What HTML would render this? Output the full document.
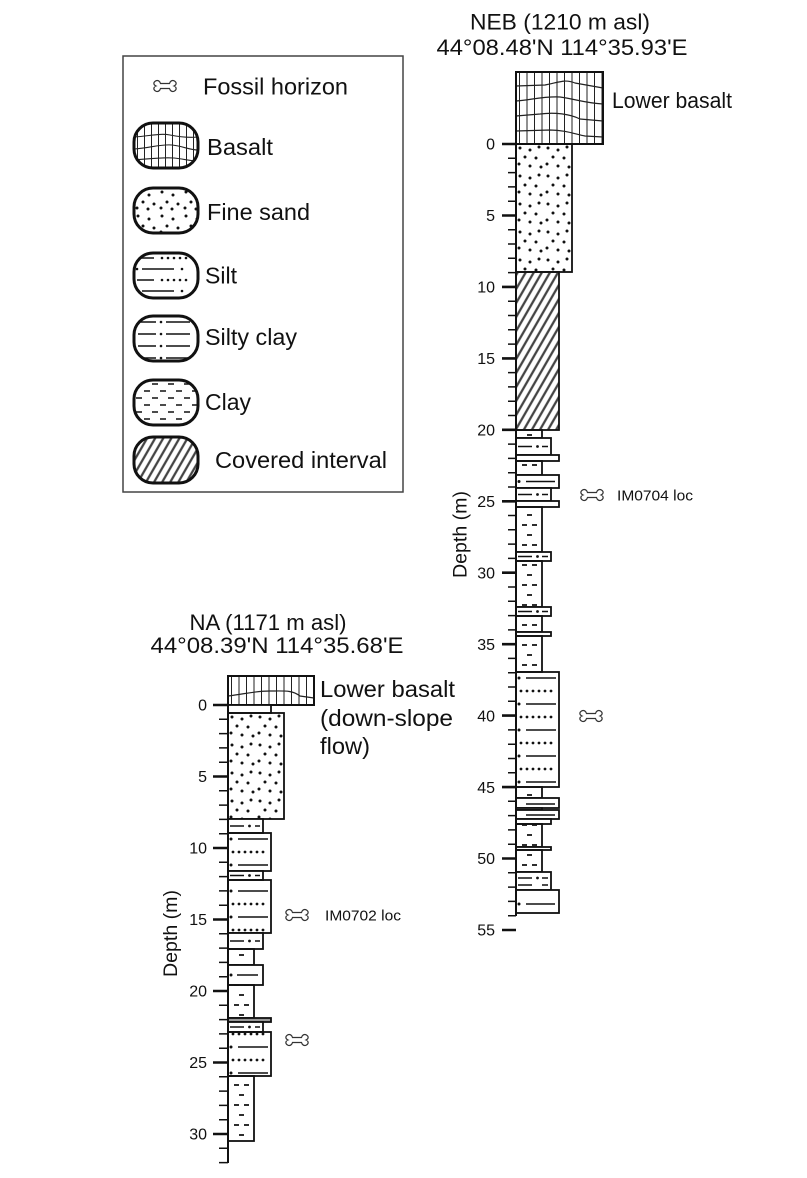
<!DOCTYPE html>
<html><head><meta charset="utf-8"><style>html,body{margin:0;padding:0;background:#fff}svg{display:block}</style></head>
<body>
<svg width="807" height="1178" viewBox="0 0 807 1178" xmlns="http://www.w3.org/2000/svg" font-family="'Liberation Sans', Arial, sans-serif" fill="#111">
<defs>
  <pattern id="sandN" x="516" y="144" width="28" height="28" patternUnits="userSpaceOnUse"><g fill="#111"><circle cx="4" cy="4" r="1.5"/><circle cx="14" cy="6" r="1.5"/><circle cx="23" cy="3" r="1.5"/><circle cx="9" cy="13" r="1.5"/><circle cx="20" cy="14" r="1.5"/><circle cx="3" cy="20" r="1.5"/><circle cx="14" cy="22" r="1.5"/><circle cx="25" cy="23" r="1.5"/></g></pattern>
  <pattern id="sandA" x="228" y="713" width="28" height="28" patternUnits="userSpaceOnUse"><g fill="#111"><circle cx="4" cy="4" r="1.5"/><circle cx="14" cy="6" r="1.5"/><circle cx="23" cy="3" r="1.5"/><circle cx="9" cy="13" r="1.5"/><circle cx="20" cy="14" r="1.5"/><circle cx="3" cy="20" r="1.5"/><circle cx="14" cy="22" r="1.5"/><circle cx="25" cy="23" r="1.5"/></g></pattern>
  <pattern id="sandL" x="134" y="188" width="24" height="24" patternUnits="userSpaceOnUse"><g fill="#111"><circle cx="4" cy="4" r="1.5"/><circle cx="15" cy="7" r="1.5"/><circle cx="9" cy="14" r="1.5"/><circle cx="20" cy="16" r="1.5"/><circle cx="3" cy="20" r="1.5"/><circle cx="14" cy="21" r="1.5"/></g></pattern>
  <pattern id="clayN" x="516" y="0" width="26" height="20" patternUnits="userSpaceOnUse"><path d="M6,5h5M16,5h5M11,15h5" stroke="#111" stroke-width="1.8"/></pattern>
  <pattern id="clayA" x="228" y="0" width="26" height="20" patternUnits="userSpaceOnUse"><path d="M6,5h5M16,5h5M11,15h5" stroke="#111" stroke-width="1.8"/></pattern>
  <pattern id="clayL" x="134" y="380" width="16" height="14" patternUnits="userSpaceOnUse"><path d="M2,4h6M10,11h6" stroke="#111" stroke-width="1.6"/></pattern>
  <pattern id="siltN" x="516" y="672" width="43" height="26" patternUnits="userSpaceOnUse"><circle cx="3" cy="6" r="1.5"/><path d="M10,6H40" stroke="#111" stroke-width="1.5"/><g><circle cx="5" cy="19" r="1.4"/><circle cx="11" cy="19" r="1.4"/><circle cx="17" cy="19" r="1.4"/><circle cx="23" cy="19" r="1.4"/><circle cx="29" cy="19" r="1.4"/><circle cx="35" cy="19" r="1.4"/></g></pattern>
  <pattern id="siltA" x="228" y="833" width="43" height="26" patternUnits="userSpaceOnUse"><circle cx="3" cy="6" r="1.5"/><path d="M10,6H40" stroke="#111" stroke-width="1.5"/><g><circle cx="5" cy="19" r="1.4"/><circle cx="11" cy="19" r="1.4"/><circle cx="17" cy="19" r="1.4"/><circle cx="23" cy="19" r="1.4"/><circle cx="29" cy="19" r="1.4"/><circle cx="35" cy="19" r="1.4"/></g></pattern>
  <pattern id="siltL" x="134" y="253" width="64" height="22" patternUnits="userSpaceOnUse"><path d="M3,5H20M8,16H40" stroke="#111" stroke-width="1.4"/><g><circle cx="28" cy="5" r="1.3"/><circle cx="34" cy="5" r="1.3"/><circle cx="40" cy="5" r="1.3"/><circle cx="46" cy="5" r="1.3"/><circle cx="52" cy="5" r="1.3"/><circle cx="3" cy="16" r="1.3"/><circle cx="48" cy="16" r="1.3"/></g></pattern>
  <pattern id="scL" x="134" y="316" width="64" height="12" patternUnits="userSpaceOnUse"><path d="M4,6H22M32,6H56" stroke="#111" stroke-width="1.4"/><circle cx="27" cy="6" r="1.3"/></pattern>
  <pattern id="cov" x="0" y="0" width="7" height="20" patternUnits="userSpaceOnUse" patternTransform="rotate(30)"><line x1="3.5" y1="0" x2="3.5" y2="20" stroke="#444" stroke-width="2.3"/></pattern>
  <pattern id="vlN" x="516" y="0" width="7.5" height="10" patternUnits="userSpaceOnUse"><line x1="3.5" y1="0" x2="3.5" y2="10" stroke="#222" stroke-width="1"/></pattern>
  <pattern id="vlA" x="228" y="0" width="7.5" height="10" patternUnits="userSpaceOnUse"><line x1="3.5" y1="0" x2="3.5" y2="10" stroke="#222" stroke-width="1"/></pattern>
  <pattern id="vlL" x="134" y="0" width="7" height="10" patternUnits="userSpaceOnUse"><line x1="3.5" y1="0" x2="3.5" y2="10" stroke="#222" stroke-width="1"/></pattern>
  <clipPath id="capB"><rect x="134" y="123" width="64" height="45" rx="19"/></clipPath>
</defs>

<!-- Legend -->
<rect x="123" y="56" width="280" height="436" fill="none" stroke="#444" stroke-width="1.5"/>
<path transform="translate(152,80)" d="M3.5,1 C6,-0.5 8,1.5 8.5,3.5 L17.5,3.5 C18,1.5 20,-0.5 22.5,1 C25,2.5 24.5,5 22,6 C24.5,7 25,9.5 22.5,11 C20,12.5 18,10.5 17.5,8.5 L8.5,8.5 C8,10.5 6,12.5 3.5,11 C1,9.5 1.5,7 4,6 C1.5,5 1,2.5 3.5,1 Z" fill="#fff" stroke="#333" stroke-width="1.2"/>
<text x="203" y="94.5" font-size="23.5" textLength="145" lengthAdjust="spacingAndGlyphs">Fossil horizon</text>

<rect x="134" y="123" width="64" height="45" rx="19" fill="url(#vlL)"/>
<g clip-path="url(#capB)" fill="none" stroke="#222" stroke-width="1.1">
  <path d="M134,137 C150,136 160,133 170,135 C180,137 188,138 198,137"/>
  <path d="M134,149 C150,148 160,144 172,145 C182,146 190,150 198,150"/>
  <path d="M134,160 C148,159 162,157 174,158 C184,159 190,161 198,161"/>
</g>
<rect x="134" y="123" width="64" height="45" rx="19" fill="none" stroke="#111" stroke-width="3"/>
<text x="207" y="155" font-size="23.5" textLength="66" lengthAdjust="spacingAndGlyphs">Basalt</text>

<rect x="134" y="188" width="64" height="45" rx="19" fill="url(#sandL)" stroke="#111" stroke-width="3"/>
<text x="207" y="220" font-size="23.5" textLength="103" lengthAdjust="spacingAndGlyphs">Fine sand</text>

<rect x="134" y="253" width="64" height="45" rx="19" fill="url(#siltL)" stroke="#111" stroke-width="3"/>
<text x="205" y="283.5" font-size="23.5" textLength="32" lengthAdjust="spacingAndGlyphs">Silt</text>

<rect x="134" y="316" width="64" height="45" rx="19" fill="url(#scL)" stroke="#111" stroke-width="3"/>
<text x="205" y="345" font-size="23.5" textLength="92" lengthAdjust="spacingAndGlyphs">Silty clay</text>

<rect x="134" y="380" width="64" height="45" rx="19" fill="url(#clayL)" stroke="#111" stroke-width="3"/>
<text x="205" y="410" font-size="23.5" textLength="46" lengthAdjust="spacingAndGlyphs">Clay</text>

<rect x="134" y="437" width="64" height="46" rx="19" fill="url(#cov)" stroke="#111" stroke-width="3"/>
<text x="215" y="468" font-size="23.5" textLength="172" lengthAdjust="spacingAndGlyphs">Covered interval</text>

<!-- NEB titles -->
<text x="560" y="29.5" font-size="22" text-anchor="middle" textLength="180" lengthAdjust="spacingAndGlyphs">NEB (1210 m asl)</text>
<text x="562" y="55" font-size="22" text-anchor="middle" textLength="251" lengthAdjust="spacingAndGlyphs">44°08.48'N 114°35.93'E</text>
<text x="612" y="108" font-size="22" textLength="120" lengthAdjust="spacingAndGlyphs">Lower basalt</text>

<!-- NEB column -->
<rect x="516" y="72" width="87" height="72" fill="url(#vlN)"/>
<g fill="none" stroke="#222" stroke-width="1.2">
  <path d="M516,86 L545,85 C560,82 565,79 575,83 L603,88"/>
  <path d="M516,101 C530,100 545,96 560,97 C575,99 585,103 603,104"/>
  <path d="M516,116 L540,114 C555,112 570,114 580,119 L603,121"/>
  <path d="M516,131 L550,130 C565,130 575,134 585,136 L603,137"/>
</g>
<rect x="516" y="72" width="87" height="72" fill="none" stroke="#111" stroke-width="2"/>
<rect x="516" y="144" width="56" height="128" fill="url(#sandN)" stroke="#111" stroke-width="1.8"/>
<rect x="516" y="272" width="43" height="158" fill="url(#cov)" stroke="#111" stroke-width="1.8"/>

<g stroke="#111" stroke-width="1.8">
  <rect x="516" y="430" width="26" height="8" fill="url(#clayN)"/>
  <rect x="516" y="438" width="35" height="17" fill="#fff"/>
  <rect x="516" y="455" width="43" height="6" fill="#fff"/>
  <rect x="516" y="461" width="26" height="14" fill="url(#clayN)"/>
  <rect x="516" y="475" width="43" height="13" fill="#fff"/>
  <rect x="516" y="488" width="35" height="13" fill="#fff"/>
  <rect x="516" y="501" width="43" height="6" fill="#fff"/>
  <rect x="516" y="507" width="26" height="45" fill="url(#clayN)"/>
  <rect x="516" y="552" width="35" height="9" fill="#fff"/>
  <rect x="516" y="561" width="26" height="46" fill="url(#clayN)"/>
  <rect x="516" y="607" width="35" height="9" fill="#fff"/>
  <rect x="516" y="616" width="26" height="16" fill="url(#clayN)"/>
  <rect x="516" y="632" width="35" height="4" fill="#fff"/>
  <rect x="516" y="636" width="26" height="36" fill="url(#clayN)"/>
  <rect x="516" y="672" width="43" height="115" fill="url(#siltN)"/>
  <rect x="516" y="787" width="26" height="11" fill="url(#clayN)"/>
  <rect x="516" y="798" width="43" height="10" fill="#fff"/>
  <rect x="516" y="808" width="26" height="2" fill="#fff"/>
  <rect x="516" y="810" width="43" height="9" fill="#fff"/>
  <rect x="516" y="819" width="35" height="5" fill="#fff"/>
  <rect x="516" y="824" width="26" height="23" fill="url(#clayN)"/>
  <rect x="516" y="847" width="35" height="3" fill="#fff"/>
  <rect x="516" y="850" width="26" height="22" fill="url(#clayN)"/>
  <rect x="516" y="872" width="35" height="18" fill="#fff"/>
  <rect x="516" y="890" width="43" height="23" fill="#fff"/>
</g>
<!-- NEB silty clay / silt marks -->
<g stroke="#111" stroke-width="1.5" fill="none">
  <path d="M518,446.5H532M542,446.5H548M518,494.5H532M542,494.5H548M518,556.5H532M542,556.5H548M518,611.5H532M542,611.5H548M518,878H532M542,878H548M518,885H532M542,885H548"/>
  <path d="M526,481.5H555M526,804H555M526,815H555M526,904H555"/>
</g>
<g fill="#111">
  <circle cx="537.5" cy="446.5" r="1.4"/><circle cx="537.5" cy="494.5" r="1.4"/><circle cx="537.5" cy="556.5" r="1.4"/><circle cx="537.5" cy="611.5" r="1.4"/><circle cx="537.5" cy="878" r="1.4"/>
  <circle cx="519" cy="481.5" r="1.5"/><circle cx="519" cy="904" r="1.5"/>
</g>

<!-- NEB axis -->
<line x1="516" y1="144" x2="516" y2="916" stroke="#111" stroke-width="2"/>
<path stroke="#111" stroke-width="1.5" fill="none" d="M508,158.3H516M508,172.6H516M508,186.9H516M508,201.2H516M508,229.7H516M508,244H516M508,258.3H516M508,272.6H516M508,301.2H516M508,315.5H516M508,329.8H516M508,344.1H516M508,372.6H516M508,386.9H516M508,401.2H516M508,415.5H516M508,444.1H516M508,458.4H516M508,472.7H516M508,487H516M508,515.5H516M508,529.8H516M508,544.1H516M508,558.4H516M508,587H516M508,601.3H516M508,615.6H516M508,629.9H516M508,658.4H516M508,672.7H516M508,687H516M508,701.3H516M508,729.9H516M508,744.2H516M508,758.5H516M508,772.8H516M508,801.3H516M508,815.6H516M508,829.9H516M508,844.2H516M508,872.8H516M508,887.1H516M508,901.4H516M508,915.7H516"/>
<path stroke="#111" stroke-width="2.6" fill="none" d="M502,144H516M502,215.5H516M502,286.9H516M502,358.4H516M502,429.8H516M502,501.3H516M502,572.7H516M502,644.2H516M502,715.6H516M502,787.1H516M502,858.5H516M502,930H516"/>
<g font-size="16" text-anchor="end">
  <text x="495" y="149.7">0</text><text x="495" y="221.2">5</text><text x="495" y="292.6">10</text><text x="495" y="364.1">15</text><text x="495" y="435.5">20</text><text x="495" y="507">25</text><text x="495" y="578.4">30</text><text x="495" y="649.9">35</text><text x="495" y="721.3">40</text><text x="495" y="792.8">45</text><text x="495" y="864.2">50</text><text x="495" y="935.7">55</text>
</g>
<text transform="translate(466.5,534.5) rotate(-90)" font-size="19.5" text-anchor="middle" textLength="87" lengthAdjust="spacingAndGlyphs">Depth (m)</text>

<!-- NEB fossils -->
<path transform="translate(579,489)" d="M3.5,1 C6,-0.5 8,1.5 8.5,3.5 L17.5,3.5 C18,1.5 20,-0.5 22.5,1 C25,2.5 24.5,5 22,6 C24.5,7 25,9.5 22.5,11 C20,12.5 18,10.5 17.5,8.5 L8.5,8.5 C8,10.5 6,12.5 3.5,11 C1,9.5 1.5,7 4,6 C1.5,5 1,2.5 3.5,1 Z" fill="#fff" stroke="#333" stroke-width="1.2"/>
<text x="617" y="500.5" font-size="15" textLength="76" lengthAdjust="spacingAndGlyphs">IM0704 loc</text>
<path transform="translate(578,710)" d="M3.5,1 C6,-0.5 8,1.5 8.5,3.5 L17.5,3.5 C18,1.5 20,-0.5 22.5,1 C25,2.5 24.5,5 22,6 C24.5,7 25,9.5 22.5,11 C20,12.5 18,10.5 17.5,8.5 L8.5,8.5 C8,10.5 6,12.5 3.5,11 C1,9.5 1.5,7 4,6 C1.5,5 1,2.5 3.5,1 Z" fill="#fff" stroke="#333" stroke-width="1.2"/>

<!-- NA titles -->
<text x="268" y="630" font-size="22" text-anchor="middle" textLength="157" lengthAdjust="spacingAndGlyphs">NA (1171 m asl)</text>
<text x="277" y="653" font-size="22" text-anchor="middle" textLength="253" lengthAdjust="spacingAndGlyphs">44°08.39'N 114°35.68'E</text>
<text x="320" y="697" font-size="23.5" textLength="135" lengthAdjust="spacingAndGlyphs">Lower basalt</text>
<text x="320" y="726" font-size="23.5" textLength="133" lengthAdjust="spacingAndGlyphs">(down-slope</text>
<text x="320" y="754" font-size="23.5" textLength="50" lengthAdjust="spacingAndGlyphs">flow)</text>

<!-- NA column -->
<rect x="228" y="676" width="86" height="29" fill="url(#vlA)"/>
<path d="M228,696 C245,694 255,691 270,691 C285,691 292,690 300,696 L314,698" fill="none" stroke="#222" stroke-width="1.2"/>
<rect x="228" y="676" width="86" height="29" fill="none" stroke="#111" stroke-width="2"/>
<g stroke="#111" stroke-width="1.8">
  <rect x="228" y="705" width="43" height="8" fill="#fff"/>
  <rect x="228" y="713" width="56" height="106" fill="url(#sandA)"/>
  <rect x="228" y="819" width="35" height="14" fill="#fff"/>
  <rect x="228" y="833" width="43" height="38" fill="url(#siltA)"/>
  <rect x="228" y="871" width="35" height="9" fill="#fff"/>
  <rect x="228" y="880" width="43" height="53" fill="url(#siltA)"/>
  <rect x="228" y="933" width="35" height="16" fill="#fff"/>
  <rect x="228" y="949" width="26" height="16" fill="url(#clayA)"/>
  <rect x="228" y="965" width="35" height="20" fill="#fff"/>
  <rect x="228" y="985" width="26" height="33" fill="url(#clayA)"/>
  <rect x="228" y="1018" width="43" height="4" fill="#999"/>
  <rect x="228" y="1022" width="35" height="10" fill="#fff"/>
  <rect x="228" y="1032" width="43" height="44" fill="url(#siltA)"/>
  <rect x="228" y="1076" width="26" height="65" fill="url(#clayA)"/>
</g>
<g stroke="#111" stroke-width="1.5" fill="none">
  <path d="M230,826H244M255,826H260M230,875.5H244M255,875.5H260M230,941H244M255,941H260M237,975H258M230,1027H244M255,1027H260"/>
</g>
<g fill="#111">
  <circle cx="249.5" cy="826" r="1.4"/><circle cx="249.5" cy="875.5" r="1.4"/><circle cx="249.5" cy="941" r="1.4"/><circle cx="231" cy="975" r="1.5"/><circle cx="249.5" cy="1027" r="1.4"/>
</g>

<!-- NA axis -->
<line x1="228" y1="705" x2="228" y2="1163" stroke="#111" stroke-width="2"/>
<path stroke="#111" stroke-width="1.5" fill="none" d="M219,719.3H228M219,733.6H228M219,747.9H228M219,762.2H228M219,790.8H228M219,805.1H228M219,819.4H228M219,833.7H228M219,862.3H228M219,876.6H228M219,890.9H228M219,905.2H228M219,933.8H228M219,948.1H228M219,962.4H228M219,976.7H228M219,1005.3H228M219,1019.6H228M219,1033.9H228M219,1048.2H228M219,1076.8H228M219,1091.1H228M219,1105.4H228M219,1119.7H228M219,1148.3H228M219,1162.6H228"/>
<path stroke="#111" stroke-width="2.6" fill="none" d="M213,705H228M213,776.5H228M213,848H228M213,919.5H228M213,991H228M213,1062.5H228M213,1134H228"/>
<g font-size="16" text-anchor="end">
  <text x="207" y="710.7">0</text><text x="207" y="782.2">5</text><text x="207" y="853.7">10</text><text x="207" y="925.2">15</text><text x="207" y="996.7">20</text><text x="207" y="1068.2">25</text><text x="207" y="1139.7">30</text>
</g>
<text transform="translate(177,933.5) rotate(-90)" font-size="19.5" text-anchor="middle" textLength="87" lengthAdjust="spacingAndGlyphs">Depth (m)</text>

<!-- NA fossils -->
<path transform="translate(284,909)" d="M3.5,1 C6,-0.5 8,1.5 8.5,3.5 L17.5,3.5 C18,1.5 20,-0.5 22.5,1 C25,2.5 24.5,5 22,6 C24.5,7 25,9.5 22.5,11 C20,12.5 18,10.5 17.5,8.5 L8.5,8.5 C8,10.5 6,12.5 3.5,11 C1,9.5 1.5,7 4,6 C1.5,5 1,2.5 3.5,1 Z" fill="#fff" stroke="#333" stroke-width="1.2"/>
<text x="325" y="920.5" font-size="15" textLength="76" lengthAdjust="spacingAndGlyphs">IM0702 loc</text>
<path transform="translate(284,1034)" d="M3.5,1 C6,-0.5 8,1.5 8.5,3.5 L17.5,3.5 C18,1.5 20,-0.5 22.5,1 C25,2.5 24.5,5 22,6 C24.5,7 25,9.5 22.5,11 C20,12.5 18,10.5 17.5,8.5 L8.5,8.5 C8,10.5 6,12.5 3.5,11 C1,9.5 1.5,7 4,6 C1.5,5 1,2.5 3.5,1 Z" fill="#fff" stroke="#333" stroke-width="1.2"/>
</svg>
</body></html>
